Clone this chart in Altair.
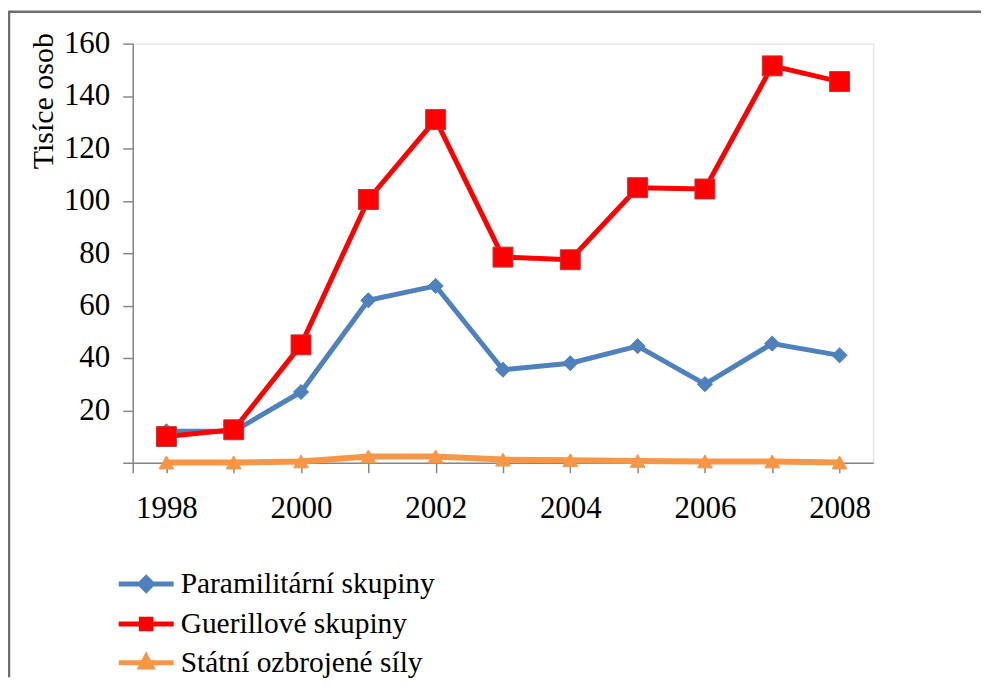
import altair as alt
import pandas as pd

years = list(range(1998, 2009))
series_names = ["Paramilitární skupiny", "Guerillové skupiny", "Státní ozbrojené síly"]
paramilitary = [12, 12, 27, 62, 67.5, 35.5, 38, 44.5, 30, 45.5, 41]
guerrilla = [10, 12.6, 45, 100.5, 131, 78.5, 77.5, 105, 104.5, 151.5, 145.5]
state = [0.1, 0.1, 0.5, 2.4, 2.4, 1.2, 1.0, 0.7, 0.5, 0.5, 0.1]
colors = ["#4f81bd", "#ff0000", "#f79646"]
outline_colors = ["#4f81bd", "#b83a3a", "#f79646"]
marker_shapes = ["diamond", "square", "triangle-up"]
marker_sizes = [230, 400, 220]
line_widths = [5, 5, 6]
legend_paths = [
    "M-2,0H2M0,-0.45L0.45,0L0,0.45L-0.45,0Z",
    "M-2,0H2M-0.35,-0.35H0.35V0.35H-0.35Z",
    "M-2,0H2M0,-0.45L0.4,0.3H-0.4Z",
]
y_ticks = [0, 20, 40, 60, 80, 100, 120, 140, 160]
x_ticks = [1997.5] + years

rows = []
for name, vals in zip(series_names, [paramilitary, guerrilla, state]):
    for yr, v in zip(years, vals):
        rows.append({"rok": yr, "hodnota": v, "serie": name})
df = pd.DataFrame(rows)

FONT = "Liberation Serif"
FS = 31
GRAY = "#868686"

color_scale = alt.Scale(domain=series_names, range=colors)

x_enc = alt.X(
    "rok:Q",
    scale=alt.Scale(domain=[1997.5, 2008.5], nice=False, zero=False),
    axis=alt.Axis(
        values=x_ticks, format="d",
        labelExpr="datum.value % 2 == 0 ? datum.label : ''",
        tickSize=10, labelPadding=21, labelFont=FONT, labelFontSize=FS,
        labelColor="black", domainColor=GRAY, tickColor=GRAY,
        domainWidth=1.5, tickWidth=1.5, grid=False, title=None,
        labelOverlap=False, labelFlush=False,
    ),
)
y_enc = alt.Y(
    "hodnota:Q",
    scale=alt.Scale(domain=[0, 160], nice=False),
    axis=alt.Axis(
        values=y_ticks,
        labelExpr="datum.value == 0 ? '' : datum.label",
        tickSize=10, labelPadding=13, labelFont=FONT, labelFontSize=FS,
        labelColor="black", domainColor=GRAY, tickColor=GRAY,
        domainWidth=1.5, tickWidth=1.5, grid=False, labelOverlap=False,
        title="Tisíce osob", titleFont=FONT, titleFontSize=30,
        titleFontWeight="normal", titleColor="black",
        titleX=-80, titleY=-11, titleAlign="right", titleBaseline="alphabetic",
        titleAngle=270,
    ),
)

legend = alt.Legend(
    title=None, orient="none", legendX=-3, legendY=525,
    labelFont=FONT, labelFontSize=29.5, labelColor="black", labelLimit=0,
    labelOffset=18, rowPadding=7, symbolStrokeWidth=5,
    symbolSize=756, symbolOpacity=1,
)

base = alt.Chart(df)

# legend-only layer (no visible marks)
legend_layer = base.transform_filter("false").mark_point(filled=True, size=756, strokeWidth=5, opacity=1).encode(
    x=x_enc, y=y_enc,
    color=alt.Color("serie:N", scale=color_scale, legend=legend),
    shape=alt.Shape("serie:N", scale=alt.Scale(domain=series_names, range=legend_paths), legend=legend),
    stroke=alt.Stroke("serie:N", scale=alt.Scale(domain=series_names, range=colors), legend=legend),
)

line_layers = []
for name, lw in zip(series_names, line_widths):
    line_layers.append(
        base.transform_filter(alt.datum.serie == name).mark_line(strokeWidth=lw).encode(
            x=x_enc, y=y_enc,
            color=alt.Color("serie:N", scale=color_scale, legend=legend),
        )
    )

point_layers = []
for name, shp, sz, oc in zip(series_names, marker_shapes, marker_sizes, outline_colors):
    point_layers.append(
        base.transform_filter(alt.datum.serie == name).mark_point(
            filled=True, shape=shp, size=sz, opacity=1, stroke=oc, strokeWidth=1
        ).encode(
            x=x_enc, y=y_enc,
            color=alt.Color("serie:N", scale=color_scale, legend=legend),
        )
    )

frame_df = pd.DataFrame({"k": [0]})
border_top = alt.Chart(frame_df).mark_rule(color="#6e6e6e", strokeWidth=2.5).encode(
    x=alt.value(-124), x2=alt.value(850), y=alt.value(-32)
)
border_left = alt.Chart(frame_df).mark_rule(color="#6e6e6e", strokeWidth=2.5).encode(
    x=alt.value(-124), y=alt.value(-33), y2=alt.value(635)
)

chart = alt.layer(legend_layer, *line_layers, *point_layers, border_top, border_left).properties(
    width=742, height=420,
    autosize=alt.AutoSizeParams(type="none"),
    padding={"left": 125, "top": 35, "right": 108, "bottom": 215},
).configure_view(
    stroke="#a6a6a6", strokeWidth=2
).configure(background="white")

chart.save("out.html", embed_options={"renderer": "svg", "actions": False})
